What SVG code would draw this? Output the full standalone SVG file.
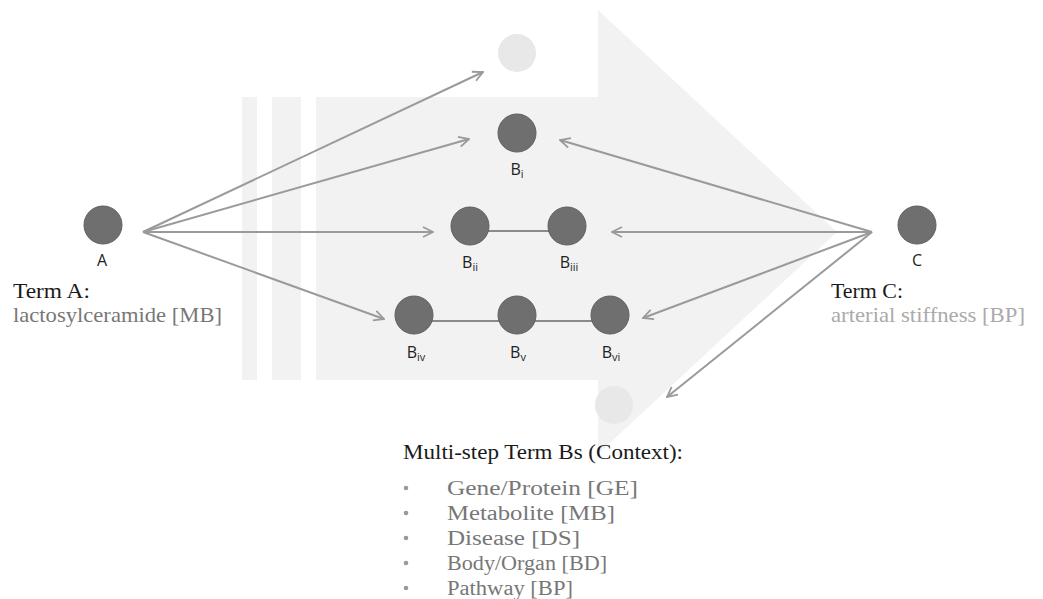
<svg xmlns="http://www.w3.org/2000/svg" width="1043" height="599" viewBox="0 0 1043 599">
<style>
.bg{fill:#f2f2f2}
.ghost{fill:#e8e8e8}
.node{fill:#6f6f6f;stroke:#5e5e5e;stroke-width:1}
.edge{stroke:#9a9a9a;stroke-width:2;fill:none}
.link{stroke:#8a8a8a;stroke-width:2;fill:none}
.lbl{font-family:"Open Sans","Liberation Sans",sans-serif;font-size:16px;fill:#222;text-anchor:middle}
.sub{font-size:11px}
.head{font-family:"Liberation Serif","DejaVu Serif",serif;font-size:21px;fill:#1a1a1a}
.term{font-family:"Liberation Serif","DejaVu Serif",serif;font-size:21px;fill:#777}
.termc{font-family:"Liberation Serif","DejaVu Serif",serif;font-size:21px;fill:#aaa}
.item{font-family:"Liberation Serif","DejaVu Serif",serif;font-size:20px;fill:#777}
.bul{fill:#999}
</style>
<defs>
<marker id="arr" viewBox="0 0 12 12" refX="11" refY="6" markerWidth="12" markerHeight="12" markerUnits="userSpaceOnUse" orient="auto">
<path d="M1,1 L11,6 L1,11" fill="none" stroke="#9a9a9a" stroke-width="1.8"/>
</marker>
</defs>
<g id="background">
<rect class="bg" x="242" y="97" width="15" height="283"/>
<rect class="bg" x="272" y="97" width="29" height="283"/>
<polygon class="bg" points="316,97 598,97 598,10 837,232 598,454 598,380 316,380"/>
<circle class="ghost" cx="517" cy="53" r="19"/>
<circle class="ghost" cx="614" cy="405" r="19"/>
</g>
<g id="connectors">
<line class="edge" x1="143" y1="232" x2="483" y2="72" marker-end="url(#arr)"/>
<line class="edge" x1="143" y1="232" x2="469" y2="139" marker-end="url(#arr)"/>
<line class="edge" x1="143" y1="232" x2="433" y2="232" marker-end="url(#arr)"/>
<line class="edge" x1="143" y1="232" x2="384" y2="319" marker-end="url(#arr)"/>
<line class="edge" x1="872" y1="232" x2="560" y2="140" marker-end="url(#arr)"/>
<line class="edge" x1="872" y1="232" x2="612" y2="232" marker-end="url(#arr)"/>
<line class="edge" x1="872" y1="232" x2="643" y2="318" marker-end="url(#arr)"/>
<line class="edge" x1="872" y1="232" x2="667" y2="397" marker-end="url(#arr)"/>
<line class="link" x1="470" y1="231" x2="567" y2="231"/>
<line class="link" x1="414" y1="321" x2="610" y2="321"/>
</g>
<g id="nodeA">
<circle class="node" cx="103" cy="225" r="19"/>
<text class="lbl" x="102" y="266">A</text>
</g>
<g id="nodeBi">
<circle class="node" cx="517" cy="133" r="19"/>
<text class="lbl" x="517" y="175">B<tspan class="sub" dy="3">i</tspan></text>
</g>
<g id="nodeBii">
<circle class="node" cx="470" cy="226" r="19"/>
<text class="lbl" x="470" y="268">B<tspan class="sub" dy="3">ii</tspan></text>
</g>
<g id="nodeBiii">
<circle class="node" cx="567" cy="226" r="19"/>
<text class="lbl" x="569" y="268">B<tspan class="sub" dy="3">iii</tspan></text>
</g>
<g id="nodeBiv">
<circle class="node" cx="414" cy="315" r="19"/>
<text class="lbl" x="416" y="358">B<tspan class="sub" dy="3">iv</tspan></text>
</g>
<g id="nodeBv">
<circle class="node" cx="517" cy="315" r="19"/>
<text class="lbl" x="518" y="358">B<tspan class="sub" dy="3">v</tspan></text>
</g>
<g id="nodeBvi">
<circle class="node" cx="610" cy="315" r="19"/>
<text class="lbl" x="611" y="358">B<tspan class="sub" dy="3">vi</tspan></text>
</g>
<g id="nodeC">
<circle class="node" cx="917" cy="225" r="19"/>
<text class="lbl" x="917" y="266">C</text>
</g>
<g id="termA">
<text class="head" x="13" y="298" textLength="77" lengthAdjust="spacingAndGlyphs">Term A:</text>
<text class="term" x="13" y="322" textLength="209" lengthAdjust="spacingAndGlyphs">lactosylceramide [MB]</text>
</g>
<g id="termC">
<text class="head" x="831" y="298" textLength="72" lengthAdjust="spacingAndGlyphs">Term C:</text>
<text class="termc" x="831" y="322" textLength="194" lengthAdjust="spacingAndGlyphs">arterial stiffness [BP]</text>
</g>
<g id="legend">
<text class="head" x="403" y="459" textLength="280" lengthAdjust="spacingAndGlyphs">Multi-step Term Bs (Context):</text>
<circle class="bul" cx="406" cy="488" r="2.3"/>
<circle class="bul" cx="406" cy="513" r="2.3"/>
<circle class="bul" cx="406" cy="538" r="2.3"/>
<circle class="bul" cx="406" cy="563" r="2.3"/>
<circle class="bul" cx="406" cy="588" r="2.3"/>
<text class="item" x="447" y="495" textLength="191" lengthAdjust="spacingAndGlyphs">Gene/Protein [GE]</text>
<text class="item" x="447" y="520" textLength="168" lengthAdjust="spacingAndGlyphs">Metabolite [MB]</text>
<text class="item" x="447" y="545" textLength="133" lengthAdjust="spacingAndGlyphs">Disease [DS]</text>
<text class="item" x="447" y="570" textLength="160" lengthAdjust="spacingAndGlyphs">Body/Organ [BD]</text>
<text class="item" x="447" y="595" textLength="126" lengthAdjust="spacingAndGlyphs">Pathway [BP]</text>
</g>
</svg>
